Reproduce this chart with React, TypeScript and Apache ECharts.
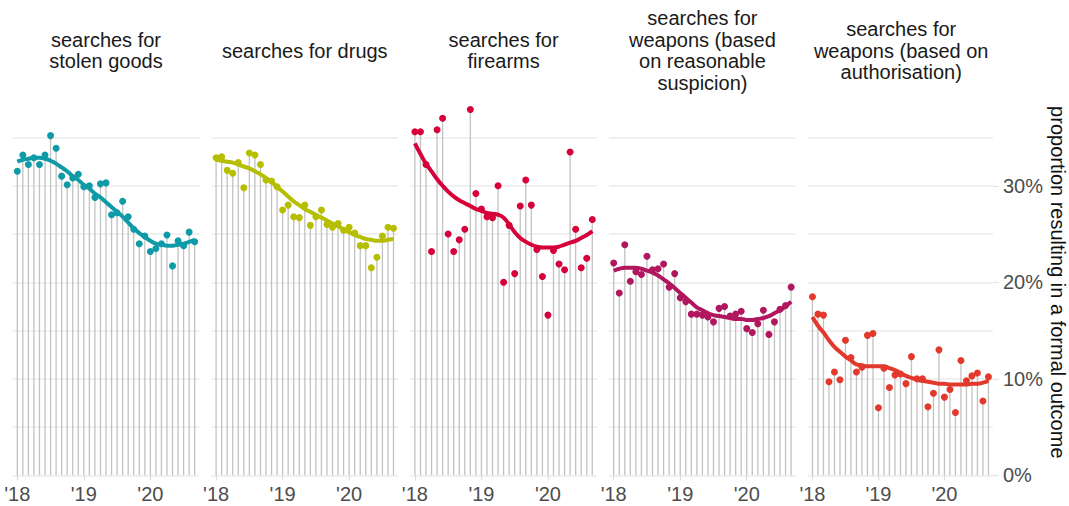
import React, { useEffect, useRef } from "react";
import * as echarts from "echarts";

// ---- categories / labels ----
const panelTitles = [
  "searches for\nstolen goods",
  "searches for drugs",
  "searches for\nfirearms",
  "searches for\nweapons (based\non reasonable\nsuspicion)",
  "searches for\nweapons (based on\nauthorisation)",
];
const panelColors = ["#0f9aa8", "#b6be00", "#d6003a", "#b0175e", "#e2392c"];
const yearTickValues = [0, 12, 24]; // month index (Jan 2018 = 0)
const yearTickLabels = ["'18", "'19", "'20"];
const percentTickValues = [0, 10, 20, 30];
const axisTitle = "proportion resulting in a formal outcome";

// ---- monthly values (Jan 2018 – Sep 2020), % resulting in a formal outcome ----
const stolenGoods = [31.5, 33.2, 32.2, 32.9, 32.2, 33.2, 35.2, 33.9, 31.0, 30.1, 30.8, 31.2, 29.9, 30.0, 28.8, 30.2, 30.3, 27.0, 27.2, 28.4, 26.8, 25.5, 24.0, 24.8, 23.2, 23.5, 24.0, 24.9, 21.7, 24.3, 23.8, 25.2, 24.2];
const stolenGoodsTrend = [32.5, 32.7, 32.8, 32.9, 32.9, 32.8, 32.6, 32.3, 31.9, 31.5, 31.0, 30.6, 30.1, 29.7, 29.2, 28.8, 28.3, 27.8, 27.3, 26.8, 26.2, 25.6, 25.1, 24.7, 24.3, 24.0, 23.9, 23.8, 23.8, 23.9, 24.0, 24.2, 24.4];

const drugs = [32.9, 33.0, 31.6, 31.3, 32.4, 29.8, 33.4, 33.2, 32.2, 30.6, 30.5, 29.9, 27.5, 28.0, 26.8, 26.7, 28.0, 25.9, 26.8, 27.5, 26.0, 25.7, 26.1, 25.4, 25.7, 25.1, 23.8, 23.8, 21.5, 22.6, 24.8, 25.7, 25.6];
const drugsTrend = [32.7, 32.6, 32.5, 32.4, 32.2, 32.0, 31.8, 31.5, 31.2, 30.8, 30.4, 29.9, 29.4, 28.9, 28.4, 28.0, 27.6, 27.3, 27.0, 26.7, 26.4, 26.1, 25.8, 25.5, 25.2, 24.9, 24.7, 24.5, 24.4, 24.3, 24.3, 24.4, 24.5];

const firearms = [35.6, 35.6, 32.2, 23.2, 35.8, 37.0, 25.0, 23.2, 24.4, 25.5, 37.9, 29.2, 27.6, 26.8, 26.7, 30.0, 20.0, 25.9, 20.9, 27.9, 30.6, 28.0, 23.4, 20.6, 16.6, 23.3, 21.9, 21.3, 33.5, 25.5, 21.5, 22.5, 26.5];
const firearmsTrend = [34.4, 33.3, 32.3, 31.5, 30.7, 30.0, 29.4, 28.9, 28.5, 28.2, 27.9, 27.6, 27.4, 27.2, 27.1, 27.0, 26.7, 26.0, 25.2, 24.6, 24.2, 23.9, 23.7, 23.6, 23.6, 23.6, 23.7, 23.9, 24.1, 24.3, 24.6, 24.9, 25.3];

const weaponsSuspicion = [22.0, 18.9, 23.9, 20.1, 21.1, 20.8, 22.7, 21.3, 21.4, 21.9, 19.5, 20.9, 18.4, 18.0, 16.7, 16.7, 16.6, 16.4, 15.9, 17.3, 17.5, 16.5, 16.7, 17.0, 15.2, 14.8, 15.7, 17.1, 14.6, 15.9, 17.2, 17.6, 19.5];
const weaponsSuspicionTrend = [21.2, 21.4, 21.5, 21.5, 21.5, 21.4, 21.2, 21.0, 20.7, 20.3, 19.9, 19.4, 18.9, 18.4, 17.9, 17.4, 17.1, 16.8, 16.6, 16.5, 16.4, 16.3, 16.2, 16.2, 16.1, 16.1, 16.2, 16.3, 16.5, 16.8, 17.1, 17.5, 18.0];

const weaponsAuthorisation = [18.5, 16.7, 16.6, 9.7, 10.7, 9.9, 14.0, 12.2, 10.7, 11.2, 14.5, 14.7, 7.0, 11.1, 9.1, 10.4, 10.5, 9.5, 12.3, 10.0, 10.0, 7.1, 8.5, 13.0, 8.1, 8.9, 6.5, 11.9, 9.8, 10.3, 10.6, 7.7, 10.2];
const weaponsAuthorisationTrend = [16.4, 15.5, 14.8, 14.0, 13.3, 12.8, 12.3, 11.9, 11.5, 11.4, 11.3, 11.3, 11.3, 11.3, 11.1, 10.9, 10.6, 10.3, 10.1, 9.9, 9.8, 9.7, 9.6, 9.5, 9.5, 9.4, 9.4, 9.4, 9.4, 9.5, 9.5, 9.6, 9.8];

const panelValues = [stolenGoods, drugs, firearms, weaponsSuspicion, weaponsAuthorisation];
const panelTrends = [stolenGoodsTrend, drugsTrend, firearmsTrend, weaponsSuspicionTrend, weaponsAuthorisationTrend];

const FONT = '"Liberation Sans", Arial, Helvetica, sans-serif';

export default function App() {
  const ref = useRef<HTMLDivElement>(null);

  useEffect(() => {
    if (!ref.current) return;
    const chart = echarts.init(ref.current, null, { renderer: "svg" });

    const panelLeft = 12.7;
    const panelStep = 198.8;
    const panelWidth = 186.6;
    const gridTop = 89.3;
    const gridBottom = 30.7;

    const grids: any[] = [];
    const xAxes: any[] = [];
    const yAxes: any[] = [];
    const series: any[] = [];
    const graphics: any[] = [];
    const nPanels = panelValues.length;

    panelValues.forEach((vals, i) => {
      const left = panelLeft + panelStep * i;
      grids.push({ left, width: panelWidth, top: gridTop, bottom: gridBottom, containLabel: false });
      xAxes.push({
        gridIndex: i,
        type: "value",
        min: -0.83,
        max: 32.83,
        splitLine: { show: false },
        axisLine: { show: false },
        axisTick: {
          show: true,
          customValues: yearTickValues,
          length: 5,
          lineStyle: { color: "#dcdcdc", width: 1.2 },
        },
        axisLabel: {
          customValues: yearTickValues,
          formatter: (v: number) => {
            const k = yearTickValues.indexOf(Math.round(v));
            return k >= 0 ? yearTickLabels[k] : "";
          },
          fontSize: 20,
          fontFamily: FONT,
          color: "#4d4d4d",
          margin: 9,
        },
      });
      // gridline axis (every 5%)
      yAxes.push({
        gridIndex: i,
        type: "value",
        min: 0,
        max: 40,
        interval: 5,
        position: "left",
        splitLine: {
          show: true,
          showMaxLine: false,
          lineStyle: { color: "#ebebeb", width: 1.5 },
        },
        axisLine: { show: false },
        axisTick: { show: false },
        axisLabel: { show: false },
      });

      const pts = vals.map((v, k) => [k, v]);
      series.push({
        type: "bar",
        xAxisIndex: i,
        yAxisIndex: i,
        data: pts,
        barWidth: 1.3,
        itemStyle: { color: "#c2c2c2" },
        silent: true,
        z: 1,
      });
      series.push({
        type: "line",
        xAxisIndex: i,
        yAxisIndex: i,
        data: panelTrends[i].map((v, k) => [k, v]),
        smooth: true,
        showSymbol: false,
        symbol: "none",
        lineStyle: { width: 4, color: panelColors[i] },
        itemStyle: { color: panelColors[i] },
        silent: true,
        z: 2,
      });
      series.push({
        type: "scatter",
        xAxisIndex: i,
        yAxisIndex: i,
        data: pts,
        symbolSize: 7,
        itemStyle: { color: panelColors[i], opacity: 1 },
        silent: true,
        z: 3,
      });

      graphics.push({
        type: "text",
        x: left + panelWidth / 2,
        y: 50.5,
        style: {
          text: panelTitles[i],
          fill: "#1a1a1a",
          font: `20px ${FONT}`,
          align: "center",
          verticalAlign: "middle",
          lineHeight: 21.5,
        },
      });
    });

    // labelled percentage axis on the right of the last panel
    yAxes.push({
      gridIndex: nPanels - 1,
      type: "value",
      min: 0,
      max: 40,
      position: "right",
      splitLine: { show: false },
      axisLine: { show: false },
      axisTick: {
        show: true,
        customValues: percentTickValues,
        length: 6,
        lineStyle: { color: "#e3e3e3", width: 1.2 },
      },
      axisLabel: {
        show: true,
        customValues: percentTickValues,
        formatter: (v: number) => `${v}%`,
        fontSize: 20,
        fontFamily: FONT,
        color: "#4d4d4d",
        margin: 10,
      },
      name: axisTitle,
      nameLocation: "middle",
      nameRotate: -90,
      nameGap: 55,
      nameTextStyle: { fontSize: 20, fontFamily: FONT, color: "#111" },
    });

    chart.setOption({
      animation: false,
      backgroundColor: "#ffffff",
      grid: grids,
      xAxis: xAxes,
      yAxis: yAxes,
      series,
      graphic: graphics,
    });

    return () => chart.dispose();
  }, []);

  return (
    <div
      ref={ref}
      style={{ position: "absolute", left: 0, top: 0, width: 1069, height: 506 }}
    />
  );
}
